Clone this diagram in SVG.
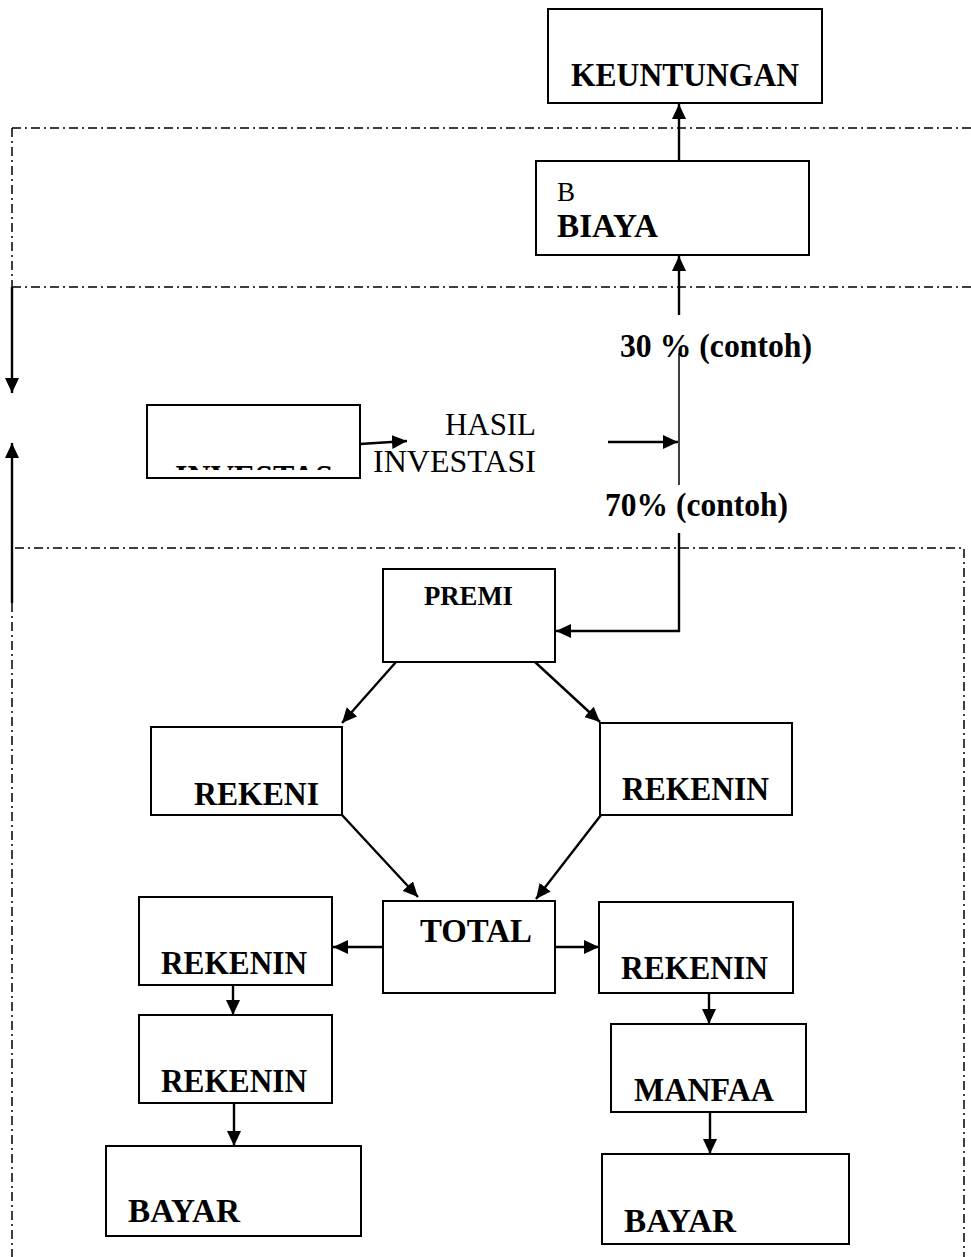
<svg xmlns="http://www.w3.org/2000/svg" width="971" height="1257" viewBox="0 0 971 1257">
<defs>
<style>
.box{fill:#fff;stroke:#000;stroke-width:2}
.t{font-family:"Liberation Serif","Times New Roman",serif;fill:#000}
.b{font-weight:bold;font-size:33px}
.r{font-weight:normal;font-size:32px}
.c{fill:none;stroke:#000;stroke-width:2.4}
.thin{fill:none;stroke:#000;stroke-width:1.5}
.dd{fill:none;stroke:#000;stroke-width:1.5;stroke-dasharray:9 4 2 4}
</style>
<marker id="ah" markerUnits="userSpaceOnUse" markerWidth="16" markerHeight="14" refX="15" refY="7" orient="auto">
<path d="M0,0 L15,7 L0,14 z" fill="#000"/>
</marker>
<clipPath id="invclip"><rect x="148" y="406" width="211" height="64"/></clipPath>
</defs>
<rect width="971" height="1257" fill="#fff"/>

<g id="frames">
<path class="dd" d="M12,128 H971 M12,128 V287 M12,287 H971 M15,548 H964 V1257 M12,603 V1257"/>
</g>

<g id="connectors">
<path class="c" d="M679,161 V104" marker-end="url(#ah)"/>
<path class="c" d="M679,315 V256" marker-end="url(#ah)"/>
<path class="thin" d="M679,353 V485"/>
<path class="c" d="M608,442 H678" marker-end="url(#ah)"/>
<path class="c" d="M679,533 V631 H556" marker-end="url(#ah)"/>
<path class="c" d="M360,444 L407,441" marker-end="url(#ah)"/>
<path class="c" d="M396,662 L342,723" marker-end="url(#ah)"/>
<path class="c" d="M535,662 L600,722" marker-end="url(#ah)"/>
<path class="c" d="M342,815 L418,897" marker-end="url(#ah)"/>
<path class="c" d="M601,815 L536,899" marker-end="url(#ah)"/>
<path class="c" d="M383,947 H333" marker-end="url(#ah)"/>
<path class="c" d="M555,947 H599" marker-end="url(#ah)"/>
<path class="c" d="M233,985 V1015" marker-end="url(#ah)"/>
<path class="c" d="M234,1103 V1146" marker-end="url(#ah)"/>
<path class="c" d="M709,993 V1024" marker-end="url(#ah)"/>
<path class="c" d="M710,1112 V1154" marker-end="url(#ah)"/>
<path class="c" d="M12,287 V393" marker-end="url(#ah)"/>
<path class="c" d="M12,603 V443" marker-end="url(#ah)"/>
</g>

<g id="keuntungan">
<rect class="box" x="548" y="9" width="274" height="94"/>
<text class="t b" x="571" y="86" textLength="228" lengthAdjust="spacingAndGlyphs">KEUNTUNGAN</text>
</g>

<g id="biaya">
<rect class="box" x="536" y="161" width="273" height="94"/>
<text class="t" x="557" y="201" font-size="27">B</text>
<text class="t b" x="557" y="237" textLength="101" lengthAdjust="spacingAndGlyphs">BIAYA</text>
</g>

<g id="label-30">
<text class="t b" x="620" y="357" textLength="192" lengthAdjust="spacingAndGlyphs">30 % (contoh)</text>
</g>

<g id="investasi">
<rect class="box" x="147" y="405" width="213" height="73"/>
<text class="t b" x="175" y="488" clip-path="url(#invclip)" textLength="158" lengthAdjust="spacingAndGlyphs">INVESTAS</text>
</g>

<g id="hasil-investasi">
<text class="t r" x="445" y="435" textLength="91" lengthAdjust="spacingAndGlyphs">HASIL</text>
<text class="t r" x="373" y="472" textLength="163" lengthAdjust="spacingAndGlyphs">INVESTASI</text>
</g>

<g id="label-70">
<text class="t b" x="605" y="516" textLength="183" lengthAdjust="spacingAndGlyphs">70% (contoh)</text>
</g>

<g id="premi">
<rect class="box" x="383" y="569" width="172" height="93"/>
<text class="t" x="424" y="605" font-size="27" font-weight="bold" textLength="89" lengthAdjust="spacingAndGlyphs">PREMI</text>
</g>

<g id="rekeni-left">
<rect class="box" x="151" y="727" width="191" height="88"/>
<text class="t b" x="194" y="805" textLength="125" lengthAdjust="spacingAndGlyphs">REKENI</text>
</g>

<g id="rekenin-right">
<rect class="box" x="600" y="723" width="192" height="92"/>
<text class="t b" x="622" y="800" textLength="147" lengthAdjust="spacingAndGlyphs">REKENIN</text>
</g>

<g id="total">
<rect class="box" x="383" y="901" width="172" height="92"/>
<text class="t b" x="420" y="942" textLength="112" lengthAdjust="spacingAndGlyphs">TOTAL</text>
</g>

<g id="rekenin-l1">
<rect class="box" x="139" y="897" width="193" height="88"/>
<text class="t b" x="161" y="974" textLength="146" lengthAdjust="spacingAndGlyphs">REKENIN</text>
</g>

<g id="rekenin-r2">
<rect class="box" x="599" y="902" width="194" height="91"/>
<text class="t b" x="621" y="979" textLength="147" lengthAdjust="spacingAndGlyphs">REKENIN</text>
</g>

<g id="rekenin-l2">
<rect class="box" x="139" y="1015" width="193" height="88"/>
<text class="t b" x="161" y="1092" textLength="146" lengthAdjust="spacingAndGlyphs">REKENIN</text>
</g>

<g id="manfaa">
<rect class="box" x="611" y="1024" width="195" height="88"/>
<text class="t b" x="634" y="1101" textLength="140" lengthAdjust="spacingAndGlyphs">MANFAA</text>
</g>

<g id="bayar-left">
<rect class="box" x="106" y="1146" width="255" height="90"/>
<text class="t b" x="128" y="1222" textLength="112" lengthAdjust="spacingAndGlyphs">BAYAR</text>
</g>

<g id="bayar-right">
<rect class="box" x="602" y="1154" width="247" height="90"/>
<text class="t b" x="624" y="1232" textLength="112" lengthAdjust="spacingAndGlyphs">BAYAR</text>
</g>
</svg>
